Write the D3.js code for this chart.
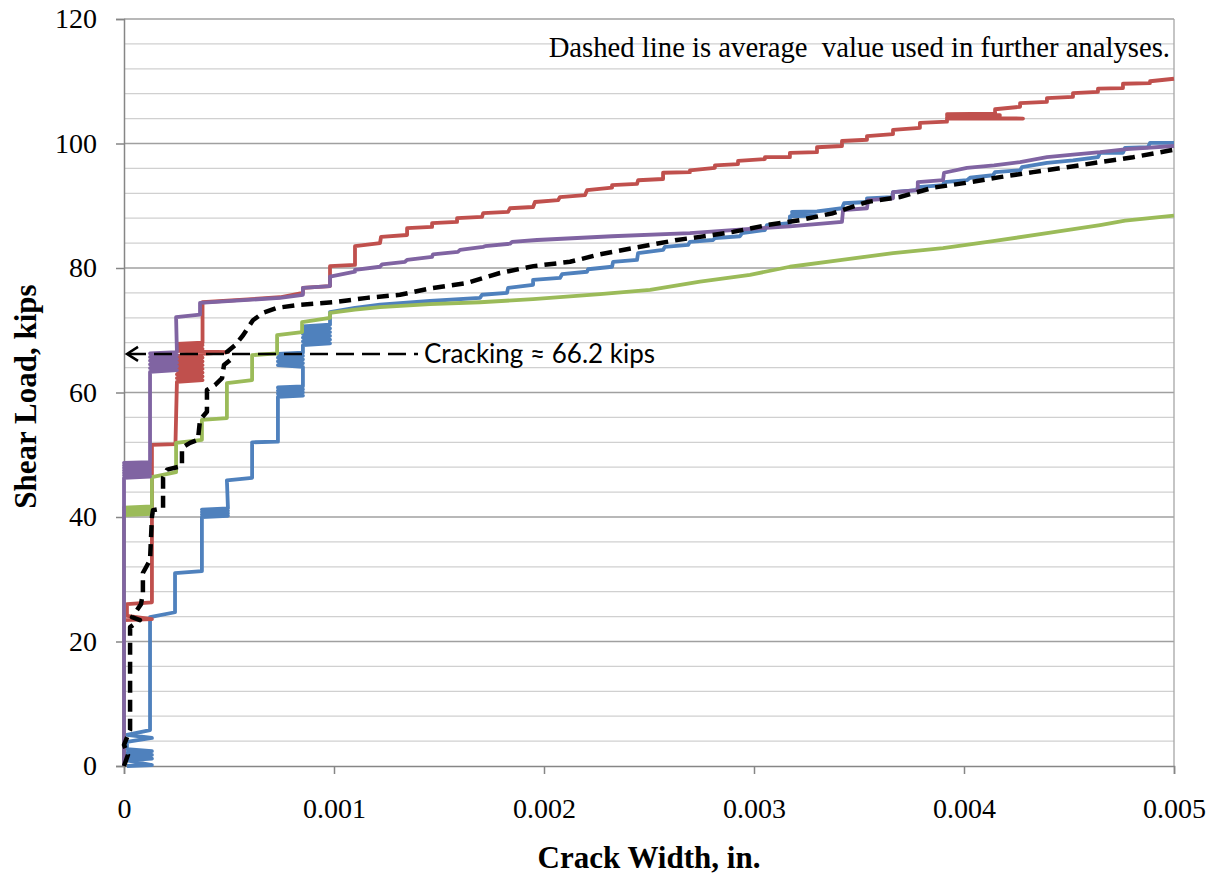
<!DOCTYPE html>
<html>
<head>
<meta charset="utf-8">
<script src="https://cdn.jsdelivr.net/npm/d3@7"></script>
<style>
  html, body { margin: 0; padding: 0; background: #fff; }
  svg { display: block; }
</style>
</head>
<body>
<svg id="chart" width="1216" height="878"></svg>
<script>
// ---------------- DATA ----------------
const xTicks = [0, 0.001, 0.002, 0.003, 0.004, 0.005];
const xTickLabels = ["0", "0.001", "0.002", "0.003", "0.004", "0.005"];
const yTicks = [0, 20, 40, 60, 80, 100, 120];
const yTickLabels = ["0", "20", "40", "60", "80", "100", "120"];
const xTitle = "Crack Width, in.";
const yTitle = "Shear Load, kips";
const noteText = "Dashed line is average  value used in further analyses.";
const crackLoad = 66.2;
const crackText = "Cracking \u2248 66.2 kips";

// [crack width (in.), shear load (kips)]
const bluePts = [
  [0.000014,0],[0.000133,0.16],[0.000014,0.9],[0.000133,1.2],[0.000014,1.5],[0.000133,1.8],
  [0.000014,2.1],[0.000133,2.4],[0.000014,2.7],[0.000014,3.86],[0.000133,4.5],[0.000014,5.0],[0.000124,5.78],
  [0.000124,23.9],[0.000243,24.7],[0.000243,31.0],[0.000371,31.3],[0.000371,40.0],
  [0.000495,40.2],[0.000371,40.4],[0.000495,40.6],[0.000371,40.8],[0.000495,41.0],[0.000371,41.2],[0.000495,41.4],
  [0.00049,45.9],[0.00061,46.3],[0.00061,52.0],[0.000733,52.1],[0.000733,59.3],
  [0.000852,59.5],[0.000733,59.8],[0.000852,60.0],[0.000733,60.3],[0.000852,60.5],[0.000733,60.8],[0.000852,61.0],
  [0.000852,64.1],[0.000733,64.4],[0.000852,64.7],[0.000733,65.0],[0.000852,65.3],[0.000733,65.6],[0.000852,65.9],[0.000733,66.2],[0.000852,66.4],
  [0.000852,67.6],[0.000981,67.9],[0.000852,68.2],[0.000981,68.5],[0.000852,68.8],[0.000981,69.1],[0.000852,69.4],
  [0.000981,69.7],[0.000852,70.0],[0.000981,70.3],[0.000852,70.6],[0.000981,70.9],
  [0.000981,72.9],[0.0011,73.6],[0.001219,74.1],[0.001457,74.7],[0.001695,75.2],[0.001705,75.7],
  [0.001824,76.0],[0.001829,76.8],[0.001948,77.3],[0.001948,78.1],[0.002076,78.4],[0.002086,79.0],
  [0.002205,79.4],[0.00221,79.8],[0.002324,80.2],[0.002329,81.0],[0.002443,81.3],[0.002448,82.4],
  [0.002567,82.9],[0.002576,83.4],[0.002686,83.7],[0.002695,84.2],[0.002805,84.5],[0.002814,84.8],
  [0.002933,85.1],[0.002943,85.6],[0.003052,86.1],[0.003062,86.9],[0.003171,87.2],[0.003171,88.3],
  [0.00329,88.4],[0.003181,88.6],[0.00329,88.8],[0.003181,89.0],[0.0033,89.1],[0.003419,89.6],[0.003429,90.4],[0.003538,90.6],
  [0.003538,91.2],[0.003657,91.4],[0.003662,92.2],[0.003776,92.5],[0.00378,93.0],[0.0039,93.3],
  [0.003905,93.8],[0.004014,94.1],[0.004029,94.5],[0.004138,94.9],[0.004148,95.4],[0.004267,95.7],
  [0.004276,96.2],[0.004395,96.9],[0.004519,97.3],[0.004638,97.8],[0.004648,98.5],[0.004757,98.5],
  [0.004767,99.3],[0.004876,99.4],[0.004886,100.1],[0.005,100.1]
];

const redPts = [
  [0,0],[0,23.45],[0.000133,23.6],[0.000014,24.1],[0.000014,26.0],[0.000133,26.3],
  [0.000133,51.6],[0.000245,51.7],[0.000252,61.7],
  [0.000374,62.0],[0.000252,62.3],[0.000374,62.6],[0.000252,62.9],[0.000374,63.2],[0.000252,63.5],
  [0.000374,63.8],[0.000252,64.1],[0.000374,64.4],[0.000252,64.7],[0.000374,65.0],[0.000252,65.3],
  [0.000374,65.6],[0.000252,65.9],[0.000374,66.2],[0.000495,66.5],[0.000252,66.7],[0.000374,67.0],
  [0.000252,67.3],[0.000374,67.6],[0.000252,67.8],[0.000374,68.0],
  [0.000374,74.5],[0.000743,75.3],[0.000852,76.0],[0.000852,76.8],[0.000981,77.1],[0.000981,80.3],
  [0.0011,80.5],[0.0011,83.5],[0.001219,84.0],[0.001224,85.0],[0.001348,85.3],[0.001348,86.4],
  [0.001467,86.6],[0.001467,87.2],[0.001586,87.4],[0.001586,88.0],[0.001705,88.2],[0.00171,88.8],
  [0.001829,89.0],[0.001838,89.6],[0.001948,89.8],[0.001957,90.6],[0.002067,90.9],[0.002076,91.4],
  [0.002195,91.7],[0.002205,92.5],[0.002324,92.9],[0.002324,93.3],[0.002443,93.5],[0.002448,94.1],
  [0.002567,94.3],[0.002567,95.3],[0.002695,95.4],[0.002695,95.7],[0.002814,96.1],[0.002814,96.5],
  [0.002924,96.7],[0.002924,97.2],[0.003052,97.5],[0.003052,97.8],[0.003171,97.8],[0.003171,98.5],
  [0.0033,98.6],[0.0033,99.4],[0.003419,99.6],[0.003419,100.4],[0.003538,100.6],[0.003538,101.2],
  [0.003662,101.5],[0.003662,102.2],[0.00379,102.5],[0.00379,103.3],[0.003919,103.5],[0.003919,104.0],
  [0.004281,104.0],[0.003919,104.2],[0.004171,104.3],[0.003919,104.45],[0.004171,104.55],[0.003919,104.7],
  [0.004148,104.8],[0.004148,105.5],
  [0.004267,105.9],[0.004267,106.5],[0.004395,106.7],[0.004395,107.3],[0.004519,107.5],[0.004519,108.1],
  [0.004638,108.3],[0.004638,108.8],[0.004757,108.9],[0.004757,109.6],[0.004886,109.7],[0.004886,110.0],
  [0.005,110.4]
];

const greenPts = [
  [0,0],[0,40.3],[0.000133,40.5],[0,40.7],[0.000133,40.9],[0,41.1],[0.000133,41.3],[0,41.5],[0.000133,41.7],[0.000133,41.9],
  [0.000133,46.4],[0.000248,47.2],[0.000248,51.9],[0.000371,52.4],[0.000371,55.6],[0.00049,55.9],
  [0.00049,61.5],[0.00061,62.0],[0.00061,66.0],[0.000729,66.3],[0.000729,69.2],[0.000848,69.7],
  [0.000848,71.3],[0.000981,72.0],[0.000981,72.8],[0.0011,73.3],[0.001219,73.7],[0.001457,74.2],
  [0.001695,74.5],[0.001948,75.0],[0.002267,75.8],[0.002505,76.5],[0.002743,77.8],[0.002981,78.9],
  [0.003171,80.2],[0.003419,81.3],[0.003662,82.4],[0.0039,83.2],[0.004138,84.3],[0.004395,85.6],
  [0.004648,86.9],[0.004767,87.6],[0.005,88.4]
];

const purplePts = [
  [0,0],[0,46.3],[0.000124,46.5],[0,46.7],[0.000124,46.9],[0,47.1],[0.000124,47.3],[0,47.5],
  [0.000124,47.7],[0,47.9],[0.000124,48.1],[0,48.3],[0.000124,48.5],[0,48.7],[0.000124,48.8],[0.000124,63.3],
  [0.000252,63.6],[0.000124,63.9],[0.000252,64.2],[0.000124,64.5],[0.000252,64.8],[0.000124,65.1],
  [0.000252,65.4],[0.000124,65.7],[0.000252,66.0],[0.000124,66.3],[0.000252,66.5],
  [0.000248,72.1],[0.000362,72.5],[0.000362,74.4],[0.000743,75.2],[0.000852,75.7],[0.000852,76.8],
  [0.000981,77.1],[0.000981,78.6],[0.0011,79.4],[0.0011,79.7],[0.001219,80.2],[0.001229,80.6],
  [0.001338,81.0],[0.001348,81.3],[0.001467,81.8],[0.001471,82.2],[0.00159,82.6],[0.0016,82.9],
  [0.00171,83.4],[0.001719,83.5],[0.001838,83.9],[0.001848,84.2],[0.001967,84.5],[0.002324,85.1],
  [0.002695,85.6],[0.002981,86.3],[0.003171,86.7],[0.003419,87.4],[0.003424,89.3],[0.003538,89.6],
  [0.003543,90.9],[0.003662,91.2],[0.003662,92.2],[0.00378,92.5],[0.00378,93.8],[0.0039,94.1],
  [0.003905,95.3],[0.004014,96.1],[0.004143,96.5],[0.004267,97.0],[0.004395,97.8],[0.004519,98.2],
  [0.004648,98.6],[0.004776,99.1],[0.005,99.6]
];

const avgPts = [
  [0,0],[0.000019,1.8],[0,3.4],[0.000029,5.8],[0.000029,22.3],[0.000076,23.45],[0.000038,23.9],
  [0.000081,26.0],[0.00009,27.8],[0.00009,31.0],[0.000124,33.1],[0.000133,40.0],[0.000138,41.1],
  [0.000186,41.4],[0.000186,46.3],[0.000205,47.6],[0.000276,48.2],[0.000276,51.1],[0.000314,51.9],
  [0.000352,52.4],[0.000362,55.6],[0.000395,56.9],[0.000395,60.4],[0.000433,61.2],[0.000467,62.3],
  [0.000476,64.4],[0.000505,65.2],[0.00049,66.5],[0.000529,67.6],[0.000567,69.2],[0.000614,71.6],
  [0.000662,72.8],[0.000729,73.6],[0.000838,74.1],[0.000995,74.5],[0.001157,75.2],[0.001314,75.7],
  [0.001471,76.8],[0.001633,77.6],[0.00171,78.4],[0.00179,79.2],[0.00195,80.3],[0.002124,81.0],
  [0.002267,82.2],[0.002376,82.9],[0.002505,83.7],[0.002633,84.5],[0.002743,85.0],[0.0029,85.8],
  [0.003062,86.9],[0.003219,87.7],[0.003376,88.8],[0.003538,90.6],[0.003695,91.4],[0.003852,92.9],
  [0.004014,93.7],[0.004171,94.6],[0.004329,95.4],[0.00449,96.2],[0.004648,97.0],[0.004805,97.8],
  [0.005,99.0]
];

const seriesList = [
  { pts: bluePts,   color: "#4F81BD", width: 3.8, dash: null },
  { pts: redPts,    color: "#C0504D", width: 3.8, dash: null },
  { pts: greenPts,  color: "#9BBB59", width: 3.8, dash: null },
  { pts: purplePts, color: "#8064A2", width: 3.8, dash: null },
  { pts: avgPts,    color: "#000000", width: 4.5, dash: "12,7" }
];

// ---------------- CHART ----------------
const svg = d3.select("#chart");
const W = 1216, H = 878;
const m = { left: 124, right: 42, top: 19, bottom: 112 };
const x = d3.scaleLinear().domain([0, 0.005]).range([m.left, W - m.right]);
const y = d3.scaleLinear().domain([0, 120]).range([H - m.bottom, m.top]);

svg.append("rect").attr("width", W).attr("height", H).attr("fill", "#fff");

// minor gridlines
const minorVals = d3.range(4, 120, 4).filter(v => v % 20 !== 0);
svg.append("g").selectAll("line").data(minorVals).join("line")
  .attr("x1", x(0)).attr("x2", x(0.005))
  .attr("y1", d => y(d)).attr("y2", d => y(d))
  .attr("stroke", "#d0d0d0").attr("stroke-width", 1.3);

// major gridlines
svg.append("g").selectAll("line").data(yTicks.filter(v => v > 0)).join("line")
  .attr("x1", x(0)).attr("x2", x(0.005))
  .attr("y1", d => y(d)).attr("y2", d => y(d))
  .attr("stroke", "#a0a0a0").attr("stroke-width", 1.3);

// right border
svg.append("line").attr("x1", x(0.005)).attr("x2", x(0.005))
  .attr("y1", y(0)).attr("y2", y(120))
  .attr("stroke", "#a6a6a6").attr("stroke-width", 1.3);

// axes
const yAxis = d3.axisLeft(y).tickValues(yTicks)
  .tickFormat((d, i) => yTickLabels[i]).tickSize(8).tickPadding(19);
const gy = svg.append("g").attr("transform", `translate(${x(0)},0)`).call(yAxis);
gy.select(".domain").attr("stroke", "#868686").attr("stroke-width", 1.5);
gy.selectAll(".tick line").attr("stroke", "#868686").attr("stroke-width", 1.5);
gy.selectAll(".tick text").attr("font-family", "'Liberation Serif','Times New Roman',serif")
  .attr("font-size", 28).attr("fill", "#000");

const xAxis = d3.axisBottom(x).tickValues(xTicks)
  .tickFormat((d, i) => xTickLabels[i]).tickSize(8);
const gx = svg.append("g").attr("transform", `translate(0,${y(0)})`).call(xAxis);
gx.select(".domain").attr("stroke", "#868686").attr("stroke-width", 1.5);
gx.selectAll(".tick line").attr("stroke", "#868686").attr("stroke-width", 1.5);
gx.selectAll(".tick text").attr("font-family", "'Liberation Serif','Times New Roman',serif")
  .attr("font-size", 28).attr("fill", "#000").attr("y", 52).attr("dy", 0);

// series
const line = d3.line().x(d => x(d[0])).y(d => y(d[1]));
const gs = svg.append("g");
seriesList.forEach(s => {
  gs.append("path").datum(s.pts)
    .attr("d", line)
    .attr("fill", "none")
    .attr("stroke", s.color)
    .attr("stroke-width", s.width)
    .attr("stroke-linejoin", "round")
    .attr("stroke-dasharray", s.dash);
});

// cracking annotation arrow
const crackY = y(crackLoad);
const arrowEnd = x(0) + 294;
svg.append("line")
  .attr("x1", x(0) + 4).attr("x2", arrowEnd)
  .attr("y1", crackY).attr("y2", crackY)
  .attr("stroke", "#000").attr("stroke-width", 2.5)
  .attr("stroke-dasharray", "18,8");
svg.append("path")
  .attr("d", `M${x(0) + 14},${crackY - 7} L${x(0) + 3},${crackY} L${x(0) + 14},${crackY + 7}`)
  .attr("fill", "none").attr("stroke", "#000").attr("stroke-width", 2.5);
svg.append("text")
  .attr("x", arrowEnd + 6).attr("y", crackY + 9)
  .attr("font-family", "Lato, 'Open Sans', sans-serif").attr("font-size", 26)
  .attr("fill", "#000")
  .text(crackText);

// note text
svg.append("text")
  .attr("x", 1170).attr("y", 57).attr("text-anchor", "end")
  .attr("font-family", "'Liberation Serif','Times New Roman',serif").attr("font-size", 28.7)
  .style("white-space", "pre")
  .attr("fill", "#000")
  .text(noteText);

// axis titles
svg.append("text")
  .attr("x", (x(0) + x(0.005)) / 2).attr("y", 868).attr("text-anchor", "middle")
  .attr("font-family", "'Liberation Serif','Times New Roman',serif").attr("font-size", 31)
  .attr("font-weight", "bold").attr("fill", "#000")
  .text(xTitle);
svg.append("text")
  .attr("transform", `translate(36,${(y(0) + y(120)) / 2 + 4}) rotate(-90)`)
  .attr("text-anchor", "middle")
  .attr("font-family", "'Liberation Serif','Times New Roman',serif").attr("font-size", 31)
  .attr("font-weight", "bold").attr("fill", "#000")
  .text(yTitle);
</script>
</body>
</html>
